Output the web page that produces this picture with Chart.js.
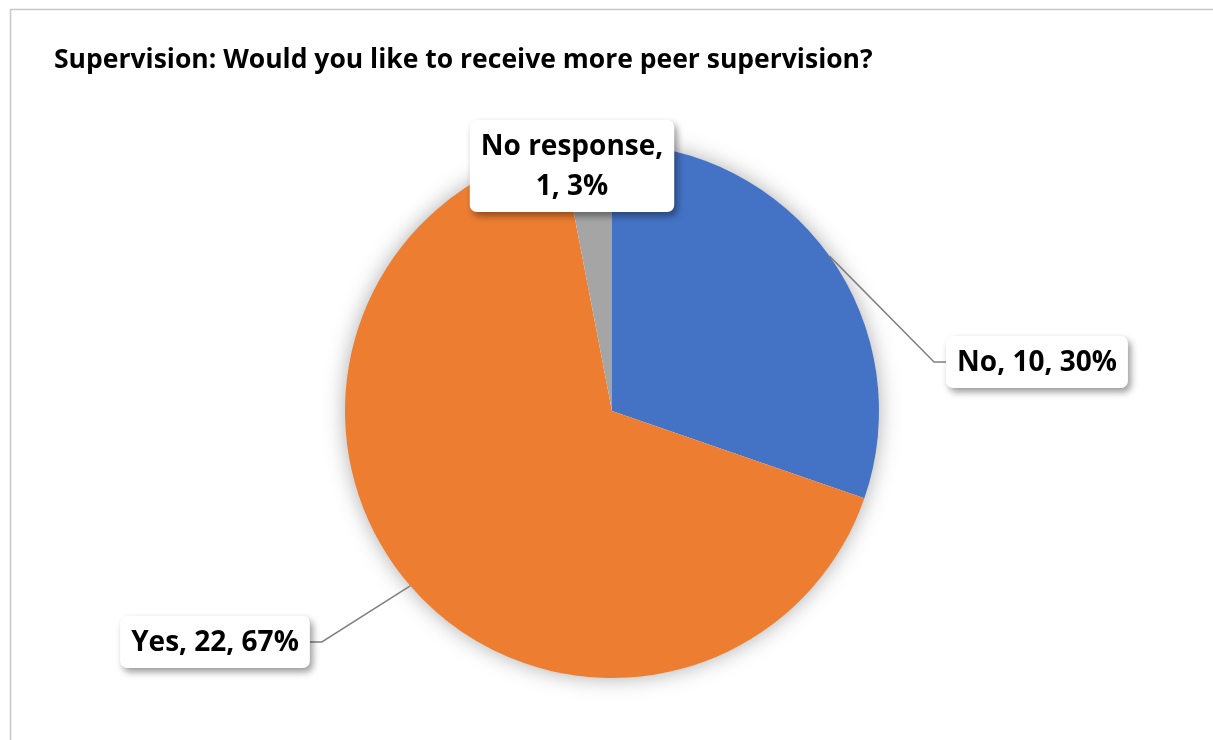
<!DOCTYPE html>
<html>
<head>
<meta charset="utf-8">
<title>Peer supervision</title>
<script src="https://cdn.jsdelivr.net/npm/chart.js@4/dist/chart.umd.min.js"></script>
<style>
  html, body { margin: 0; padding: 0; background: #fff; }
  canvas { display: block; }
</style>
</head>
<body>
<canvas id="pie" width="1213" height="740"></canvas>
<script>
const chartTitle = 'Supervision: Would you like to receive more peer supervision?';
const categories = ['No', 'Yes', 'No response'];
const counts = [10, 22, 1];
const sliceColors = ['#4472C4', '#ED7D31', '#A5A5A5'];

// where each callout box sits, measured from the pie centre
const calloutOffsets = [
  { dx: 425, dy: -49 },
  { dx: -397, dy: 231 },
  { dx: -40, dy: -245 }
];

const labelFont = 'bold 28px "Open Sans", Lato, sans-serif';
const titleFont = 'bold 26.5px "Open Sans", Lato, sans-serif';

const total = counts.reduce((a, b) => a + b, 0);

function labelLines(ctx, i) {
  const pct = Math.round(counts[i] / total * 100) + '%';
  const full = categories[i] + ', ' + counts[i] + ', ' + pct;
  if (ctx.measureText(full).width > 200) {
    return [categories[i] + ',', counts[i] + ', ' + pct];
  }
  return [full];
}

const framePlugin = {
  id: 'frame',
  beforeDraw(chart) {
    const ctx = chart.ctx;
    ctx.save();
    ctx.strokeStyle = '#c8c8c8';
    ctx.lineWidth = 1.5;
    ctx.beginPath();
    ctx.moveTo(10.5, chart.height + 2);
    ctx.lineTo(10.5, 9.5);
    ctx.lineTo(chart.width + 2, 9.5);
    ctx.stroke();

    ctx.fillStyle = '#000';
    ctx.font = titleFont;
    ctx.textBaseline = 'alphabetic';
    ctx.fillText(chartTitle, 54, 68);
    ctx.restore();
  },
  beforeDatasetsDraw(chart) {
    // soft shadow under the whole pie
    const arc = chart.getDatasetMeta(0).data[0];
    if (!arc) return;
    const ctx = chart.ctx;
    ctx.save();
    ctx.shadowColor = 'rgba(0,0,0,0.35)';
    ctx.shadowBlur = 22;
    ctx.fillStyle = '#fff';
    ctx.beginPath();
    ctx.arc(arc.x, arc.y, arc.outerRadius - 1, 0, Math.PI * 2);
    ctx.fill();
    ctx.restore();
  },
  afterDatasetsDraw(chart) {
    const ctx = chart.ctx;
    const meta = chart.getDatasetMeta(0);
    meta.data.forEach((arc, i) => {
      const mid = (arc.startAngle + arc.endAngle) / 2;
      const ax = arc.x + Math.cos(mid) * arc.outerRadius;
      const ay = arc.y + Math.sin(mid) * arc.outerRadius;

      ctx.save();
      ctx.font = labelFont;
      const lines = labelLines(ctx, i);
      const lineH = 40;
      const padX = 11, padY = 6;
      const w = Math.max(...lines.map(l => ctx.measureText(l).width)) + padX * 2;
      const h = lines.length * lineH + padY * 2;
      const cx = arc.x + calloutOffsets[i].dx;
      const cy = arc.y + calloutOffsets[i].dy;
      const left = cx - w / 2, top = cy - h / 2;

      const covered = ax > left && ax < left + w && ay > top && ay < top + h;
      if (!covered) {
        const edgeX = cx > ax ? left : left + w;
        const elbowX = cx > ax ? edgeX - 12 : edgeX + 12;
        ctx.strokeStyle = '#808080';
        ctx.lineWidth = 1.5;
        ctx.beginPath();
        ctx.moveTo(ax, ay);
        ctx.lineTo(elbowX, cy);
        ctx.lineTo(edgeX, cy);
        ctx.stroke();
      }

      ctx.shadowColor = 'rgba(0,0,0,0.4)';
      ctx.shadowBlur = 7;
      ctx.shadowOffsetX = 3;
      ctx.shadowOffsetY = 4;
      ctx.fillStyle = '#fff';
      ctx.beginPath();
      ctx.roundRect(left, top, w, h, 7);
      ctx.fill();
      ctx.restore();

      ctx.save();
      ctx.font = labelFont;
      ctx.fillStyle = '#000';
      ctx.textAlign = 'center';
      ctx.textBaseline = 'middle';
      lines.forEach((l, k) => {
        ctx.fillText(l, cx, top + padY + lineH * k + lineH / 2 + 1);
      });
      ctx.restore();
    });
  }
};

new Chart(document.getElementById('pie'), {
  type: 'pie',
  data: {
    labels: categories,
    datasets: [{
      data: counts,
      backgroundColor: sliceColors,
      borderWidth: 0,
      hoverOffset: 0
    }]
  },
  options: {
    responsive: false,
    animation: false,
    events: [],
    layout: { padding: { top: 144, bottom: 62, left: 345, right: 334 } },
    plugins: {
      legend: { display: false },
      title: { display: false },
      tooltip: { enabled: false }
    }
  },
  plugins: [framePlugin]
});
</script>
</body>
</html>
